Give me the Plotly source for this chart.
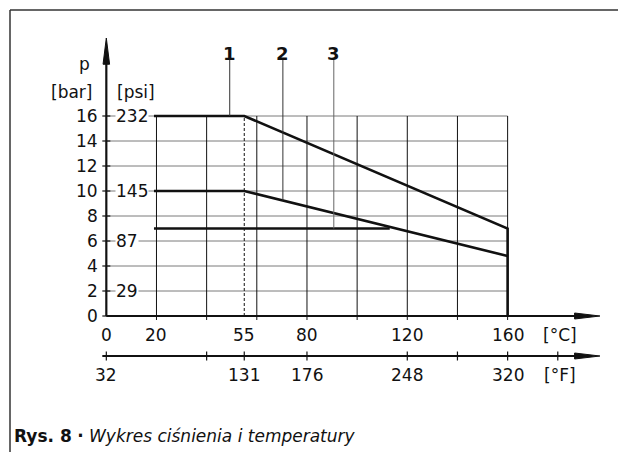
import plotly.graph_objects as go

# ---------------- data ----------------
temp_c_labels_at = [0, 20, 55, 80, 120, 160]          # labelled °C ticks
temp_c_grid = [20, 40, 60, 80, 100, 120, 140, 160]    # vertical grid lines
temp_f_ticks = [32, 104, 131, 176, 248, 284, 320, 356]
temp_f_labels = ["32", "", "131", "176", "248", "", "320", ""]
p_bar_ticks = [0, 2, 4, 6, 8, 10, 12, 14, 16]
p_psi_at = [2, 6, 10, 16]
p_psi_labels = ["29", "87", "145", "232"]

curve1_t = [19, 55, 160, 160]
curve1_p = [16, 16, 7, 0]
curve2_t = [19, 55, 160]
curve2_p = [10, 10, 4.8]
curve3_t = [19, 113]
curve3_p = [7, 7]

leader_labels = ["1", "2", "3"]
leader_t = [49.2, 70.4, 90.7]
leader_end_p = [16, 9.25, 7]
leader_colors = ["#333333", "#333333", "#666666"]
dashed_t = 55

# ---------------- geometry (axis units) ----------------
W, H = 618, 444          # page has an 8px body margin
X_RANGE = [-39.2, 207.2]
Y_RANGE = [-10.88, 24.64]
F_AXIS_P = -3.2
ARROW_TIP_T = 196.8
ARROW_BASE_T = 187.2
ARROW_HALF_P = 0.24
Y_ARROW_TIP = 22.24
Y_ARROW_BASE = 20.24
Y_ARROW_HALF_T = 1.3

FONT = "DejaVu Sans"
BLACK = "#111111"


def f_to_c(f):
    return (f - 32) / 1.8


def segs(pairs):
    xs, ys = [], []
    for (x0, y0, x1, y1) in pairs:
        xs += [x0, x1, None]
        ys += [y0, y1, None]
    return xs, ys


fig = go.Figure()


def add_lines(pairs, color, width, dash="solid"):
    xs, ys = segs(pairs)
    fig.add_trace(go.Scatter(x=xs, y=ys, mode="lines",
                             line=dict(color=color, width=width, dash=dash),
                             hoverinfo="skip", showlegend=False))


# horizontal grid (gray)
add_lines([(0, p, 160, p) for p in p_bar_ticks if p > 0], "#7a7a7a", 1)
# vertical grid (black) with small tick below axis
add_lines([(t, -0.32, t, 16) for t in temp_c_grid], BLACK, 1)
# dashed line at 55 °C
add_lines([(dashed_t, 0, dashed_t, 16)], BLACK, 1, dash="3px,2px")
# y-axis ticks
add_lines([(-1.6, p, 1.6, p) for p in p_bar_ticks], BLACK, 1.2)

# curves
for tx, py in [(curve1_t, curve1_p), (curve2_t, curve2_p), (curve3_t, curve3_p)]:
    fig.add_trace(go.Scatter(x=tx, y=py, mode="lines",
                             line=dict(color=BLACK, width=2.6),
                             hoverinfo="skip", showlegend=False))

# leader lines
for t, pe, c in zip(leader_t, leader_end_p, leader_colors):
    add_lines([(t, 20.5, t, pe)], c, 1)

# axes lines
add_lines([(0, 0, 0, Y_ARROW_BASE)], BLACK, 2.2)
add_lines([(0, 0, ARROW_BASE_T, 0)], BLACK, 2.2)
add_lines([(-1.6, F_AXIS_P, ARROW_BASE_T, F_AXIS_P)], BLACK, 2.2)
# °F ticks
add_lines([(f_to_c(f), F_AXIS_P - 0.36, f_to_c(f), F_AXIS_P + 0.36) for f in temp_f_ticks], BLACK, 1.2)

# arrowheads
for py in [0, F_AXIS_P]:
    fig.add_trace(go.Scatter(
        x=[ARROW_BASE_T - 0.5, ARROW_TIP_T, ARROW_BASE_T - 0.5, ARROW_BASE_T - 0.5],
        y=[py + ARROW_HALF_P, py, py - ARROW_HALF_P, py + ARROW_HALF_P],
        mode="lines", fill="toself", fillcolor=BLACK,
        line=dict(color=BLACK, width=1), hoverinfo="skip", showlegend=False))
fig.add_trace(go.Scatter(
    x=[-Y_ARROW_HALF_T, 0, Y_ARROW_HALF_T, -Y_ARROW_HALF_T],
    y=[Y_ARROW_BASE - 0.1, Y_ARROW_TIP, Y_ARROW_BASE - 0.1, Y_ARROW_BASE - 0.1],
    mode="lines", fill="toself", fillcolor=BLACK,
    line=dict(color=BLACK, width=1), hoverinfo="skip", showlegend=False))

ann = []


def text(x, y, s, xanchor="center", yanchor="middle", size=17, bg=None, bold=False, color=BLACK):
    d = dict(x=x, y=y, xref="x", yref="y", text=s, showarrow=False,
             xanchor=xanchor, yanchor=yanchor,
             font=dict(family=FONT, size=size, color=color,
                       weight="bold" if bold else "normal"))
    if bg:
        d["bgcolor"] = bg
        d["borderpad"] = 0
    ann.append(d)


# bar labels
for p in p_bar_ticks:
    text(-2.4, p, str(p), xanchor="right")
# psi labels
for p, s in zip(p_psi_at, p_psi_labels):
    text(3.4, p, s, xanchor="left", bg="white")
# unit labels
text(-8.8, 20.2, "p", xanchor="center")
text(-5.0, 17.95, "[bar]", xanchor="right")
text(3.4, 17.95, "[psi]", xanchor="left")
# °C labels
for t in temp_c_labels_at:
    text(t, -1.55, str(t))
text(180.8, -1.55, "[°C]")
# °F labels
for f, s in zip(temp_f_ticks, temp_f_labels):
    if s:
        text(f_to_c(f), -4.75, s)
text(180.8, -4.75, "[°F]")
# curve labels
for t, s in zip(leader_t, leader_labels):
    text(t, 21.0, s, bold=True, size=18)

# caption
ann.append(dict(x=(12 - 8) / W, y=1 - (436 - 8) / H, xref="paper", yref="paper",
                xanchor="left", yanchor="middle", showarrow=False,
                text="<b>Rys. 8</b> <b>·</b> <i>Wykres ciśnienia i temperatury</i>",
                font=dict(family=FONT, size=17, color=BLACK)))

fx = (10 - 8) / W
fy = 1 - (10 - 8) / H
shapes = [
    dict(type="line", xref="paper", yref="paper", x0=fx, x1=1, y0=fy, y1=fy,
         line=dict(color="#333333", width=1.5)),
    dict(type="line", xref="paper", yref="paper", x0=fx, x1=fx, y0=0, y1=fy,
         line=dict(color="#333333", width=1.5)),
]

fig.update_layout(
    width=W, height=H,
    margin=dict(l=0, r=0, t=0, b=0),
    paper_bgcolor="white", plot_bgcolor="white",
    xaxis=dict(range=X_RANGE, visible=False, fixedrange=True),
    yaxis=dict(range=Y_RANGE, visible=False, fixedrange=True),
    annotations=ann, shapes=shapes, showlegend=False,
)

fig.write_html("out.html", config={"displayModeBar": False})
